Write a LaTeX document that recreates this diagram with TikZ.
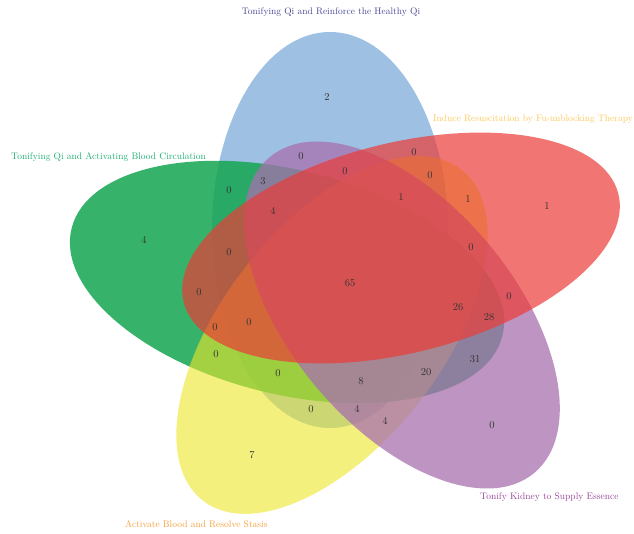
\documentclass[tikz,border=0pt]{standalone}
\usepackage{tikz}

\definecolor{qblue}{RGB}{60,130,200}
\definecolor{cgreen}{RGB}{20,165,80}
\definecolor{syellow}{RGB}{235,230,40}
\definecolor{kpurple}{RGB}{168,112,175}
\definecolor{rred}{RGB}{235,60,55}
\definecolor{qtext}{RGB}{70,70,150}
\definecolor{ctext}{RGB}{30,175,110}
\definecolor{rtext}{RGB}{250,200,90}
\definecolor{ktext}{RGB}{150,70,150}
\definecolor{stext}{RGB}{245,160,60}

\tikzset{
  qfill/.style={fill=qblue, fill opacity=.5},
  cfill/.style={fill=cgreen, fill opacity=.85},
  sfill/.style={fill=syellow, fill opacity=.6},
  kfill/.style={fill=kpurple, fill opacity=.75},
  rfill/.style={fill=rred, fill opacity=.7},
  count/.style={text=black!80, font=\fontsize{10.5}{12}\selectfont},
  setname/.style={inner sep=0pt, font=\fontsize{9.5}{11}\selectfont}
}

\begin{document}
\begin{tikzpicture}[x=1pt,y=-1pt]
  \useasboundingbox (0,0) rectangle (634,533);

  \coordinate (qmid) at (330,230);
  \coordinate (cmid) at (287,282);
  \coordinate (smid) at (332,335);
  \coordinate (kmid) at (402,315);
  \coordinate (rmid) at (401,248);

  \fill[qfill, rotate around={90:(qmid)}] (qmid) ellipse [x radius=198, y radius=118];
  \fill[cfill, rotate around={-14:(cmid)}] (cmid) ellipse [x radius=222, y radius=112];
  \fill[sfill, rotate around={52:(smid)}] (smid) ellipse [x radius=210, y radius=110];
  \fill[kfill, rotate around={-50:(kmid)}] (kmid) ellipse [x radius=206, y radius=112];
  \fill[rfill, rotate around={14:(rmid)}] (rmid) ellipse [x radius=224, y radius=105];

  % set names
  \node[setname, text=qtext] (qname) at (331,12) {Tonifying Qi and Reinforce the Healthy Qi};
  \node[setname, text=rtext, anchor=west] (rname) at (433,119) {Induce Resuscitation by Fu-unblocking Therapy};
  \node[setname, text=ctext, anchor=west] (cname) at (11,157) {Tonifying Qi and Activating Blood Circulation};
  \node[setname, text=ktext, anchor=west] (kname) at (480,497) {Tonify Kidney to Supply Essence};
  \node[setname, text=stext, anchor=west] (sname) at (125,524) {Activate Blood and Resolve Stasis};

  % counts
  \node[count] (q) at (327,97) {2};
  \node[count] (qk) at (301,156) {0};
  \node[count] (qkr) at (345,171) {0};
  \node[count] (qr) at (414,152) {0};
  \node[count] (qrs) at (430,175) {0};
  \node[count] (qck) at (263,181) {3};
  \node[count] (qc) at (229,190) {0};
  \node[count] (qkrs) at (401,197) {1};
  \node[count] (rs) at (468,199) {1};
  \node[count] (r) at (547,206) {1};
  \node[count] (qckr) at (273,211) {4};
  \node[count] (c) at (144,240) {4};
  \node[count] (qcr) at (229,252) {0};
  \node[count] (krs) at (471,247) {0};
  \node[count] (qckrs) at (350,283) {65};
  \node[count] (cr) at (199,292) {0};
  \node[count] (kr) at (509,296) {0};
  \node[count] (ckrs) at (458,307) {26};
  \node[count] (ckr) at (489,317) {28};
  \node[count] (qcrs) at (249,322) {0};
  \node[count] (crs) at (215,327) {0};
  \node[count] (cs) at (216,354) {0};
  \node[count] (ck) at (475,359) {31};
  \node[count] (qcs) at (278,373) {0};
  \node[count] (cks) at (426,372) {20};
  \node[count] (qcks) at (361,381) {8};
  \node[count] (qs) at (311,409) {0};
  \node[count] (qks) at (357,409) {4};
  \node[count] (ks) at (385,421) {4};
  \node[count] (k) at (492,425) {0};
  \node[count] (s) at (252,455) {7};
\end{tikzpicture}
\end{document}
